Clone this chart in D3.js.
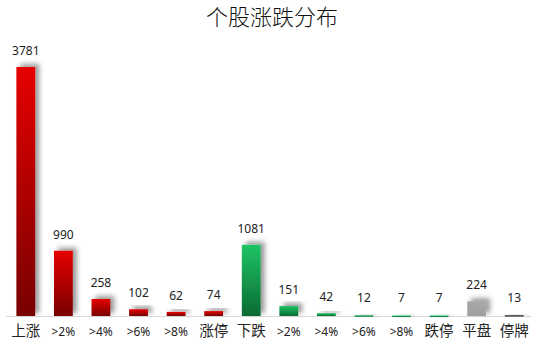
<!DOCTYPE html>
<html>
<head>
<meta charset="utf-8">
<script src="https://d3js.org/d3.v7.min.js"></script>
<style>
  body { margin: 0; background: #fff; }
  text { font-family: "Noto Sans", "Noto Sans CJK SC", sans-serif; }
</style>
</head>
<body>
<div id="chart"></div>
<script>
// categories and values
var categories = ["上涨", ">2%", ">4%", ">6%", ">8%", "涨停", "下跌", ">2% ", ">4% ", ">6% ", ">8% ", "跌停", "平盘", "停牌"];
var values = [3781, 990, 258, 102, 62, 74, 1081, 151, 42, 12, 7, 7, 224, 13];
var groups = ["up", "up", "up", "up", "up", "up", "down", "down", "down", "down", "down", "down", "flat", "halt"];

var width = 535, height = 346;

var svg = d3.select("#chart").append("svg")
  .attr("width", width)
  .attr("height", height);

var defs = svg.append("defs");

function grad(id, top, bottom) {
  var g = defs.append("linearGradient").attr("id", id)
    .attr("x1", 0).attr("y1", 0).attr("x2", 0).attr("y2", 1);
  g.append("stop").attr("offset", "0%").attr("stop-color", top);
  g.append("stop").attr("offset", "100%").attr("stop-color", bottom);
}
grad("g-up", "#e60000", "#780000");
grad("g-down", "#1ec464", "#0a6a34");
grad("g-flat", "#a8a8a8", "#a0a0a0");
grad("g-halt", "#444444", "#444444");

var f = defs.append("filter").attr("id", "shadow")
  .attr("x", "-50%").attr("y", "-50%").attr("width", "200%").attr("height", "200%");
f.append("feDropShadow").attr("dx", 4).attr("dy", -3)
  .attr("stdDeviation", 2.5).attr("flood-color", "#000").attr("flood-opacity", 0.4);

var x = d3.scaleBand()
  .domain(categories)
  .range([7, 533])
  .paddingInner(0.5)
  .paddingOuter(0.25);

var y = d3.scaleLinear()
  .domain([0, 3781])
  .range([316, 67]);

// baseline
svg.append("line")
  .attr("x1", 6).attr("x2", 531)
  .attr("y1", y(0) + 0.5).attr("y2", y(0) + 0.5)
  .attr("stroke", "#d9d9d9");

svg.selectAll(".bar")
  .data(values)
  .enter().append("rect")
  .attr("class", "bar")
  .attr("x", function(d, i) { return x(categories[i]); })
  .attr("width", x.bandwidth())
  .attr("y", function(d) { return y(d); })
  .attr("height", function(d) { return Math.max(y(0) - y(d), 1.5); })
  .attr("fill", function(d, i) { return "url(#g-" + groups[i] + ")"; })
  .attr("filter", "url(#shadow)");

svg.selectAll(".val")
  .data(values)
  .enter().append("text")
  .attr("class", "val")
  .attr("x", function(d, i) { return x(categories[i]) + x.bandwidth() / 2; })
  .attr("y", function(d) { return Math.min(y(d), y(0) - 2) - 12; })
  .attr("text-anchor", "middle")
  .attr("font-size", 12)
  .attr("fill", "#222")
  .text(function(d) { return d; });

svg.selectAll(".cat")
  .data(categories)
  .enter().append("text")
  .attr("class", "cat")
  .attr("x", function(d) { return x(d) + x.bandwidth() / 2; })
  .attr("y", 336)
  .attr("text-anchor", "middle")
  .attr("font-size", function(d) { return d.indexOf("%") >= 0 ? 12 : 14.5; })
  .attr("fill", "#222")
  .text(function(d) { return d.trim(); });

svg.append("text")
  .attr("x", 272)
  .attr("y", 25)
  .attr("text-anchor", "middle")
  .attr("font-size", 22)
  .attr("font-weight", 300)
  .attr("fill", "#111")
  .style("font-family", "'Noto Sans CJK SC', serif")
  .text("个股涨跌分布");
</script>
</body>
</html>
